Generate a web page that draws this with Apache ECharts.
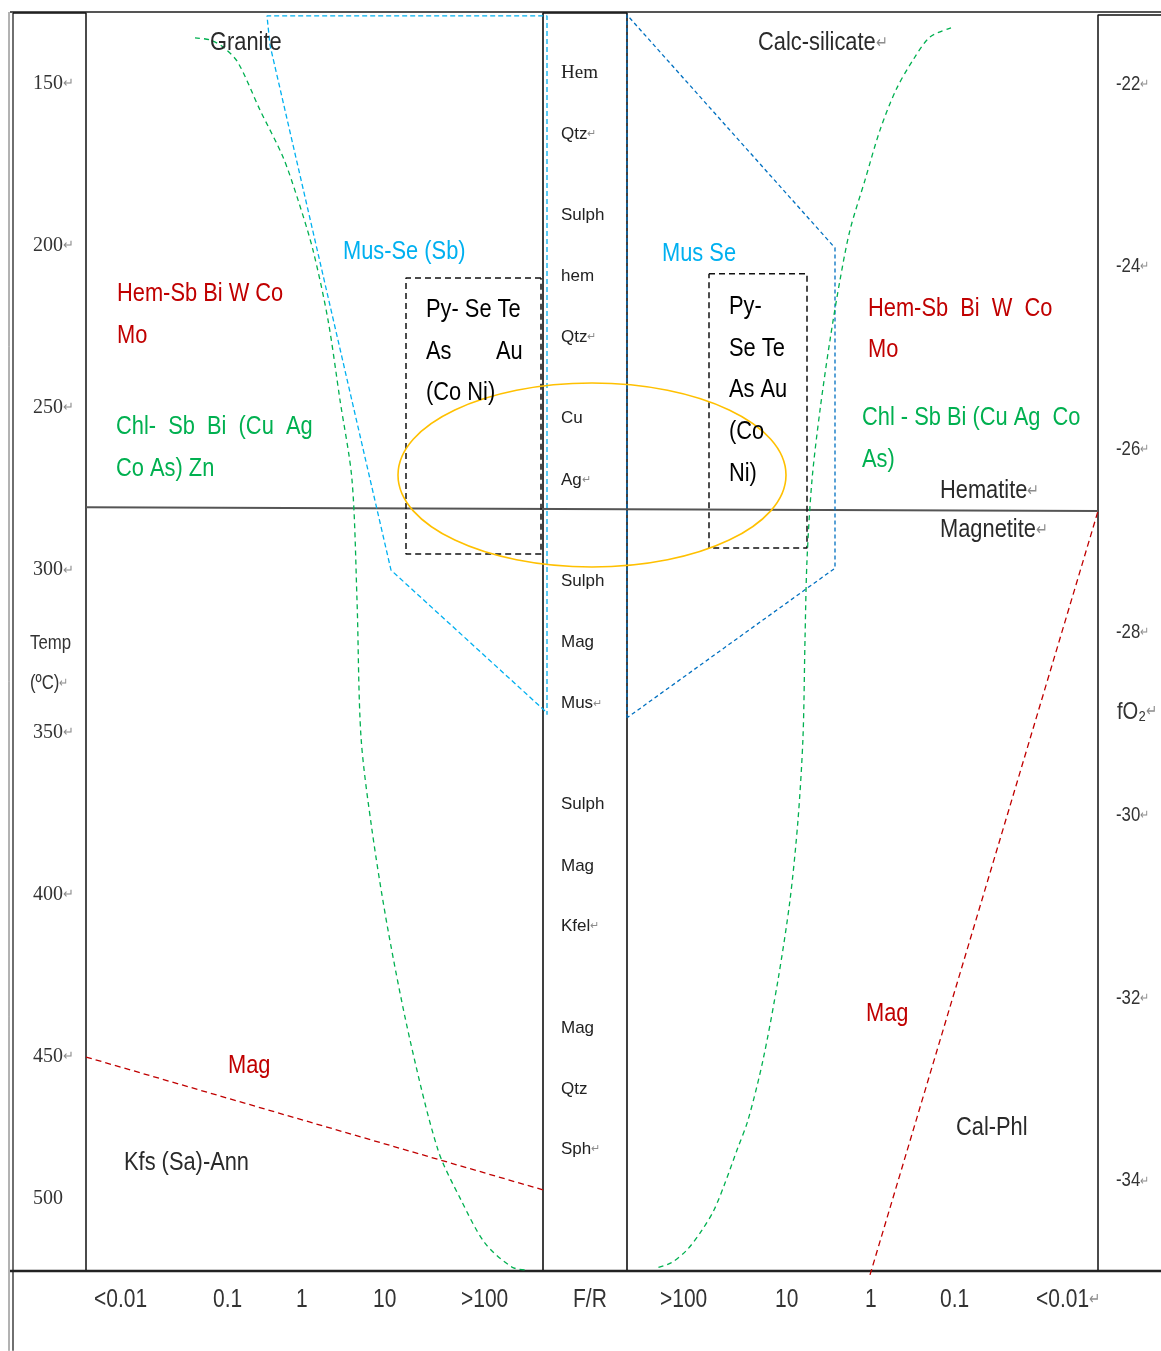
<!DOCTYPE html>
<html>
<head>
<meta charset="utf-8">
<script src="https://cdn.jsdelivr.net/npm/echarts@6/dist/echarts.min.js"></script>
<style>
  html, body { margin: 0; padding: 0; background: #ffffff; }
  #chart { width: 1161px; height: 1351px; }
</style>
</head>
<body>
<div id="chart"></div>
<script>
// x: position across the diagram (units), y: temperature (°C); right scale: log fO2

// ---- scales and tick labels ----
const tempTicks = [150, 200, 250, 300, 350, 400, 450, 500];
const fo2Ticks = [-22, -24, -26, -28, -30, -32, -34];
const frTicks = ['<0.01', '0.1', '1', '10', '>100', 'F/R', '>100', '10', '1', '0.1', '<0.01↵'];
const frTickPos = [94, 213, 296, 373, 461, 573, 660, 775, 865, 940, 1036];
const frRowTemp = 524.9;

// ---- frame of the diagram ----
const frameTop = [[10, 128.0], [1161, 128.0]];
const frameBottom = [[10, 516.0], [1161, 516.0]];
const frameOuterA = [[9, 128.0], [9, 540.6]];
const frameOuterB = [[13, 128.0], [13, 540.6]];
const tempColumn = [[13, 128.3], [86, 128.3], [86, 515.7]];
const reactionColumn = [[543, 515.7], [543, 128.3], [627, 128.3], [627, 515.7]];
const fo2Column = [[1161, 128.9], [1098, 128.9], [1098, 515.7]];
const hemMagBoundary = [[86, 280.6], [1098, 281.8]];

// ---- fields and fronts ----
const graniteFront = [
  [195, 136.0], [210, 136.6], [224, 139.0], [238, 143.6], [260, 158.2], [283, 172.7], [298, 185.9],
  [313, 201.4], [328, 222.9], [340, 247.6], [352, 272.2], [357, 309.2], [361, 351.4],
  [372, 380.1], [388, 410.9], [410, 444.8], [438, 478.7], [461, 494.1], [485, 507.4],
  [512, 514.8], [527, 515.7]
];
const calcSilicateFront = [
  [951, 132.9], [930, 135.7], [913, 142.8], [896, 152.0], [880, 164.4], [865, 179.8],
  [850, 195.2], [840, 210.6], [830, 229.1], [820, 250.7], [812, 272.2], [807, 296.9],
  [805, 321.5], [803, 351.4], [798, 377.0], [790, 401.7], [778, 426.3], [763, 451.0],
  [748, 469.5], [737, 478.7], [725, 488.9], [714, 497.2], [702, 503.4], [687, 509.5],
  [671, 513.5], [656, 515.1]
];
const musSeSbField = [[545, 343.4], [391, 300.0], [270, 138.2], [267, 129.2], [547, 129.2], [547, 344.6]];
const musSeField = [[627, 345.6], [627, 128.9], [835, 200.7], [835, 299.4], [628, 345.3]];
const pyriteBoxLeft = [[541, 210.0], [406, 210.0], [406, 295.0], [541, 295.0], [541, 210.0]];
const pyriteBoxRight = [[709, 208.7], [807, 208.7], [807, 293.2], [709, 293.2], [709, 208.7]];
const cuAgZone = [[592, 270.7, 194, 28.35]]; // centre x, centre °C, half-width, half-height (°C)
const magLineLeft = [[86, 450.05], [543, 491.0]];
const magLineRight = [[870, 517.2], [1098, 281.8]];

// ---- annotations: [text, x, °C] ----
const hostNotes = [
  ['Granite', 210, 137.6], ['Calc-silicate↵', 758, 137.6],
  ['Hematite↵', 940, 275.6], ['Magnetite↵', 940, 287.6],
  ['Kfs (Sa)-Ann', 124, 482.7], ['Cal-Phl', 956, 471.9]
];
const oxideNotes = [
  ['Hem-Sb Bi W Co', 117, 214.9], ['Mo', 117, 227.8], ['Mag', 228, 452.8],
  ['Hem-Sb  Bi  W  Co', 868, 219.5], ['Mo', 868, 232.2], ['Mag', 866, 436.8]
];
const chloriteNotes = [
  ['Chl-  Sb  Bi  (Cu  Ag', 116, 255.9], ['Co As) Zn', 116, 268.8],
  ['Chl - Sb Bi (Cu Ag  Co', 862, 253.1], ['As)', 862, 266.1]
];
const muscoviteNotes = [['Mus-Se (Sb)', 343, 202.0], ['Mus Se', 662, 202.6]];
const pyriteNotes = [
  ['Py- Se Te', 426, 219.8], ['As', 426, 232.8], ['Au', 496, 232.8], ['(Co Ni)', 426, 245.4],
  ['Py-', 729, 218.9], ['Se Te', 729, 231.9], ['As Au', 729, 244.5], ['(Co', 729, 257.4], ['Ni)', 729, 270.4]
];
const columnHead = [['Hem', 561, 146.9]];
const columnMinerals = [
  ['Qtz↵', 561, 165.7], ['Sulph', 561, 190.7], ['hem', 561, 209.5], ['Qtz↵', 561, 228.3],
  ['Cu', 561, 253.2], ['Ag↵', 561, 272.3], ['Sulph', 561, 303.5], ['Mag', 561, 322.3],
  ['Mus↵', 561, 341.1], ['Sulph', 561, 372.2], ['Mag', 561, 391.3], ['Kfel↵', 561, 409.8],
  ['Mag', 561, 441.2], ['Qtz', 561, 460.0], ['Sph↵', 561, 478.5]
];
const tempTitle = [['Temp', 30, 322.5], ['(ºC)↵', 30, 334.8]];
const fo2Title = [['fO₂↵', 1117, -28.87]];

// ---- fonts ----
const SANS = '"Liberation Sans", Arial, sans-serif';
const SERIF = '"Liberation Serif", "Times New Roman", serif';
const CONDENSED = 0.84; // horizontal squeeze for the narrow sans lettering

function lineSeries(data, color, width, type, opts) {
  return Object.assign({
    type: 'line', data: data, symbol: 'none', silent: true, animation: false,
    clip: false, z: 3,
    lineStyle: { color: color, width: width, type: type }
  }, opts || {});
}

function fmt(t) {
  if (t.endsWith('↵')) return '{a|' + t.slice(0, -1) + '}{r|↵}';
  return '{a|' + t + '}';
}

// text anchored at (x, value): left aligned, vertically centred
function textSeries(items, family, size, color, squeeze, yAxisIndex) {
  return {
    type: 'custom', yAxisIndex: yAxisIndex || 0, silent: true, animation: false,
    clip: false, z: 10,
    data: items.map(function (d) { return [d[1], d[2]]; }),
    renderItem: function (params, api) {
      const d = items[params.dataIndex];
      const p = api.coord([api.value(0), api.value(1)]);
      return {
        type: 'text',
        x: p[0], y: p[1] + (d[3] || 0),
        scaleX: squeeze,
        style: {
          text: fmt(d[0]), align: 'left', verticalAlign: 'middle',
          rich: {
            a: { fontFamily: family, fontSize: size, fill: color },
            r: { fontFamily: SANS, fontSize: Math.round(size * 0.65), fill: '#8c8c8c' }
          }
        }
      };
    }
  };
}

const tempLabelItems = tempTicks.map(function (t) {
  return t === 500 ? [String(t), 33, t, -20] : [t + '↵', 33, t];
});
const fo2LabelItems = fo2Ticks.map(function (v) { return [v + '↵', 1116, v]; });
const frLabelItems = frTicks.map(function (t, i) { return [t, frTickPos[i], frRowTemp]; });

const chart = echarts.init(document.getElementById('chart'), null, { renderer: 'canvas' });

chart.setOption({
  animation: false,
  backgroundColor: '#ffffff',
  grid: { left: 0, right: 0, top: 0, bottom: 0 },
  xAxis: { type: 'value', min: 0, max: 1161, show: false },
  yAxis: [
    { type: 'value', min: 124.3, max: 540.65, inverse: true, show: false },
    { type: 'value', min: -35.86, max: -21.08, show: false }
  ],
  series: [
    // frame
    lineSeries(frameOuterA, '#666', 1, 'solid'),
    lineSeries(frameOuterB, '#222', 1.3, 'solid'),
    lineSeries(frameTop, '#555', 2, 'solid'),
    lineSeries(frameBottom, '#222', 2.5, 'solid'),
    lineSeries(tempColumn, '#111', 1.5, 'solid'),
    lineSeries(reactionColumn, '#111', 1.6, 'solid'),
    lineSeries(fo2Column, '#111', 1.5, 'solid'),
    lineSeries(hemMagBoundary, '#555', 2, 'solid'),
    // fields
    lineSeries(musSeSbField, '#00b0f0', 1.3, [5, 3], { z: 4 }),
    lineSeries(musSeField, '#0070c0', 1.3, [4, 3], { z: 4 }),
    lineSeries(pyriteBoxLeft, '#111', 1.5, [6, 4], { z: 4 }),
    lineSeries(pyriteBoxRight, '#111', 1.5, [6, 4], { z: 4 }),
    lineSeries(graniteFront, '#00b050', 1.3, [5, 4], { smooth: 0.3, z: 5 }),
    lineSeries(calcSilicateFront, '#00b050', 1.3, [5, 4], { smooth: 0.3, z: 5 }),
    lineSeries(magLineLeft, '#c00000', 1.3, [6, 4], { z: 5 }),
    lineSeries(magLineRight, '#c00000', 1.3, [6, 4], { z: 5 }),
    {
      type: 'custom', silent: true, animation: false, clip: false, z: 6,
      data: cuAgZone,
      renderItem: function (params, api) {
        const c = api.coord([api.value(0), api.value(1)]);
        const s = api.size([api.value(2), api.value(3)]);
        return {
          type: 'ellipse',
          shape: { cx: c[0], cy: c[1], rx: s[0], ry: s[1] },
          style: { fill: null, stroke: '#ffc000', lineWidth: 1.6 }
        };
      }
    },
    // text
    textSeries(tempLabelItems, SERIF, 20, '#333', 1),
    textSeries(tempTitle, SANS, 20, '#333', CONDENSED),
    textSeries(fo2LabelItems, SANS, 20, '#333', CONDENSED, 1),
    textSeries(fo2Title, SANS, 24, '#333', CONDENSED, 1),
    textSeries(frLabelItems, SANS, 25, '#333', CONDENSED),
    textSeries(hostNotes, SANS, 26, '#2a2a2a', CONDENSED),
    textSeries(oxideNotes, SANS, 26, '#c00000', CONDENSED),
    textSeries(chloriteNotes, SANS, 26, '#00b050', CONDENSED),
    textSeries(muscoviteNotes, SANS, 26, '#00b0f0', CONDENSED),
    textSeries(pyriteNotes, SANS, 26, '#000', CONDENSED),
    textSeries(columnHead, SERIF, 19, '#222', 1),
    textSeries(columnMinerals, SANS, 17, '#222', 1)
  ]
});
</script>
</body>
</html>
